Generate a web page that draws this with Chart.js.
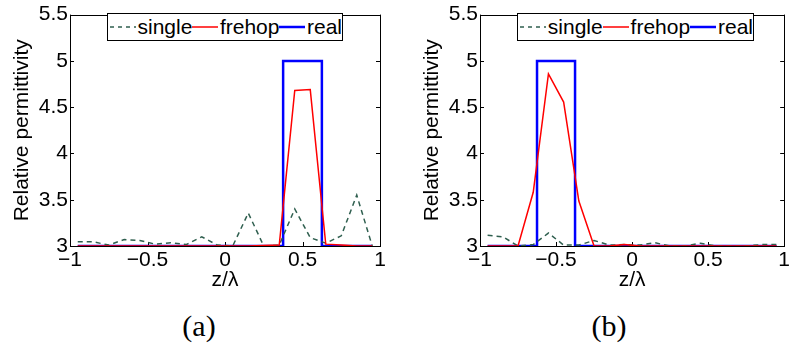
<!DOCTYPE html>
<html><head><meta charset="utf-8">
<script src="https://cdn.jsdelivr.net/npm/chart.js@4"></script>
<style>
body{margin:0;background:#fff;width:792px;height:347px;overflow:hidden;position:relative;font-family:"Liberation Sans",Arial,sans-serif;}
.box{position:absolute;top:0;width:396px;height:300px;}
.cap{position:absolute;top:309px;font-family:"Liberation Serif",serif;font-size:30px;line-height:34px;transform:translateX(-50%);color:#000;}
.legend{position:absolute;top:13px;height:28px;border:1px solid #000;background:#fff;display:flex;align-items:center;font-size:21px;box-sizing:border-box;padding-left:2px;z-index:2;color:#000;white-space:nowrap;}
.legend svg{display:block;margin-right:2px;}
</style>
</head><body>
<div class="box" style="left:0"><canvas id="ca" width="396" height="300"></canvas></div>
<div class="box" style="left:396px"><canvas id="cb" width="396" height="300"></canvas></div>
<div class="legend" id="la" style="left:107px;width:236px"></div>
<div class="legend" id="lb" style="left:517px;width:237px"></div>
<div class="cap" style="left:199px">(a)</div>
<div class="cap" style="left:609px">(b)</div>
<script>
// ---- data ----
const zGrid = [-0.95,-0.85,-0.75,-0.65,-0.55,-0.45,-0.35,-0.25,-0.15,-0.05,0.05,0.15,0.25,0.35,0.45,0.55,0.65,0.75,0.85,0.95];
const xTicks = [-1,-0.5,0,0.5,1];
const yTicks = [3,3.5,4,4.5,5,5.5];
const seriesNames = ['single','frehop','real'];

// (a)
const singleA = [3.045,3.045,3.01,3.07,3.06,3.02,3.035,3.015,3.10,3.01,3.0,3.356,3.0,3.01,3.40,3.09,3.03,3.11,3.55,3.0];
const frehopA = [3.0,3.0,3.0,3.0,3.0,3.0,3.0,3.0,3.0,3.0,3.0,3.0,3.005,3.01,4.68,4.69,3.02,3.01,3.0,3.0];
const realZA = [-0.95,0.375,0.375,0.625,0.625,0.95];
const realA  = [3,3,5,5,3,3];

// (b)
const singleB = [3.115,3.10,3.0,3.015,3.14,3.01,3.01,3.06,3.01,3.015,3.01,3.035,3.0,3.0,3.03,3.0,3.0,3.0,3.015,3.015];
const frehopB = [3.0,3.0,3.0,3.58,4.86,4.555,3.486,3.0,3.0,3.015,3.0,3.0,3.0,3.0,3.0,3.0,3.0,3.0,3.0,3.0];
const realZB = [-0.95,-0.625,-0.625,-0.375,-0.375,0.95];
const realB  = [3,3,5,5,3,3];

const colors = {single:'#2f5f4f', frehop:'#ff0000', real:'#0000ff'};

Chart.defaults.font.family = '"Liberation Sans", Arial, sans-serif';
Chart.defaults.color = '#000';

const fmt = v => (v < 0 ? '\u2212' + Math.abs(v) : String(v));
const pts = (xs, ys) => xs.map((x, i) => ({x: x, y: ys[i]}));

const framePlugin = {
  id: 'frame',
  beforeDatasetsDraw(chart) {
    const {ctx, chartArea: a, scales} = chart;
    ctx.save();
    ctx.strokeStyle = '#000';
    ctx.lineWidth = 1;
    ctx.strokeRect(Math.round(a.left) + 0.5, Math.round(a.top) + 0.5, Math.round(a.right - a.left), Math.round(a.bottom - a.top));
    const L = 4;
    ctx.beginPath();
    scales.x.ticks.forEach(t => {
      const px = Math.round(scales.x.getPixelForValue(t.value)) + 0.5;
      ctx.moveTo(px, a.bottom); ctx.lineTo(px, a.bottom - L);
      ctx.moveTo(px, a.top); ctx.lineTo(px, a.top + L);
    });
    scales.y.ticks.forEach(t => {
      const py = Math.round(scales.y.getPixelForValue(t.value)) + 0.5;
      ctx.moveTo(a.left, py); ctx.lineTo(a.left + L, py);
      ctx.moveTo(a.right, py); ctx.lineTo(a.right - L, py);
    });
    ctx.stroke();
    ctx.restore();
  }
};

function makeChart(id, single, frehop, realZ, realV, yWidth, rightPad, yTitlePad) {
  return new Chart(document.getElementById(id), {
    type: 'line',
    data: {
      datasets: [
        {label: 'real', data: pts(realZ, realV), borderColor: colors.real, borderWidth: 2.5, pointRadius: 0, tension: 0, order: 3},
        {label: 'single', data: pts(zGrid, single), borderColor: colors.single, borderDash: [5, 4], borderWidth: 1.5, pointRadius: 0, tension: 0, order: 2},
        {label: 'frehop', data: pts(zGrid, frehop), borderColor: colors.frehop, borderWidth: 1.5, pointRadius: 0, tension: 0, order: 1}
      ]
    },
    options: {
      responsive: false,
      animation: false,
      events: [],
      layout: {padding: {left: 0, right: rightPad, top: 10, bottom: 0}},
      plugins: {legend: {display: false}, tooltip: {enabled: false}},
      scales: {
        x: {
          type: 'linear', min: -1, max: 1,
          afterBuildTicks: s => { s.ticks = xTicks.map(v => ({value: v})); },
          ticks: {callback: v => fmt(v), maxRotation: 0, autoSkip: false, padding: 2, font: {size: 21}, color: '#000'},
          grid: {display: false, drawTicks: false},
          border: {display: false},
          title: {display: true, text: 'z/λ', font: {size: 21}, color: '#000', padding: {top: 0, bottom: 7}},
          afterFit: s => { s.height = 54; }
        },
        y: {
          type: 'linear', min: 3, max: 5.5,
          afterBuildTicks: s => { s.ticks = yTicks.map(v => ({value: v})); },
          ticks: {callback: v => fmt(v), autoSkip: false, padding: 2, font: {size: 21}, color: '#000'},
          grid: {display: false, drawTicks: false},
          border: {display: false},
          title: {display: true, text: 'Relative permittivity', font: {size: 21}, color: '#000', padding: {top: yTitlePad, bottom: 0}},
          afterFit: s => { s.width = yWidth; }
        }
      }
    },
    plugins: [framePlugin]
  });
}

makeChart('ca', singleA, frehopA, realZA, realA, 70, 16, 10);
makeChart('cb', singleB, frehopB, realZB, realB, 84, 3, 24);

function buildLegend(id) {
  const el = document.getElementById(id);
  seriesNames.forEach(n => {
    const dash = n === 'single' ? ' stroke-dasharray="4,4"' : '';
    const w = n === 'real' ? 2.5 : 1.5;
    el.insertAdjacentHTML('beforeend',
      '<svg width="26" height="6"><line x1="0" y1="3" x2="26" y2="3" stroke="' + colors[n] + '" stroke-width="' + w + '"' + dash + '/></svg><span>' + n + '</span>');
  });
}
buildLegend('la');
buildLegend('lb');
</script>
</body></html>
